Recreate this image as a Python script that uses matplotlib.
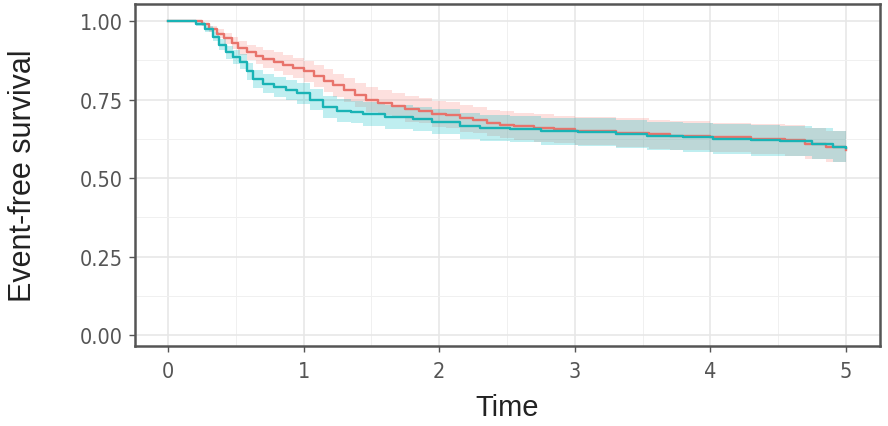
import matplotlib
matplotlib.use("Agg")
import matplotlib.pyplot as plt
import numpy as np

# survival curves (step functions, post)
red_t = [0, 0.25, 0.30, 0.36, 0.41, 0.47, 0.52, 0.58, 0.65, 0.70, 0.78, 0.85, 0.92, 1.00,
         1.08, 1.15, 1.22, 1.30, 1.38, 1.46, 1.55, 1.65, 1.75, 1.85, 1.95, 2.05, 2.15,
         2.25, 2.35, 2.45, 2.55, 2.70, 2.85, 3.00, 3.30, 3.55, 3.70, 4.00, 4.30, 4.55,
         4.70, 4.85, 5.00]
red_s = [1.0, 0.99, 0.975, 0.96, 0.945, 0.93, 0.915, 0.90, 0.89, 0.88, 0.87, 0.86, 0.85, 0.84,
         0.825, 0.81, 0.795, 0.78, 0.765, 0.75, 0.74, 0.73, 0.72, 0.715, 0.705, 0.70, 0.69,
         0.685, 0.675, 0.67, 0.665, 0.66, 0.655, 0.65, 0.645, 0.64, 0.635, 0.63, 0.625, 0.62,
         0.61, 0.60, 0.59]
red_ci = [0, 0.005, 0.01, 0.015, 0.018, 0.02, 0.022, 0.025, 0.027, 0.028, 0.03, 0.031, 0.032, 0.034,
          0.035, 0.036, 0.037, 0.038, 0.038, 0.039, 0.039, 0.04, 0.04, 0.04, 0.041, 0.041, 0.042,
          0.042, 0.042, 0.043, 0.043, 0.044, 0.044, 0.045, 0.045, 0.046, 0.046, 0.047, 0.048, 0.048,
          0.049, 0.05, 0.05]

teal_t = [0, 0.21, 0.27, 0.33, 0.38, 0.43, 0.48, 0.53, 0.58, 0.63, 0.70, 0.78, 0.87, 0.95,
          1.05, 1.14, 1.25, 1.35, 1.44, 1.60, 1.81, 1.95, 2.15, 2.30, 2.52, 2.75, 3.02, 3.30,
          3.53, 3.80, 4.02, 4.30, 4.51, 4.75, 4.90, 5.00]
teal_s = [1.0, 0.99, 0.975, 0.95, 0.925, 0.90, 0.885, 0.87, 0.84, 0.815, 0.80, 0.79, 0.78, 0.77,
          0.75, 0.726, 0.715, 0.71, 0.704, 0.695, 0.688, 0.68, 0.666, 0.66, 0.656, 0.65, 0.646, 0.64,
          0.634, 0.63, 0.624, 0.62, 0.618, 0.61, 0.60, 0.595]
teal_ci = [0, 0.006, 0.01, 0.015, 0.018, 0.02, 0.022, 0.024, 0.026, 0.028, 0.03, 0.031, 0.032, 0.033,
           0.034, 0.035, 0.036, 0.036, 0.037, 0.038, 0.039, 0.04, 0.04, 0.041, 0.042, 0.043, 0.044, 0.045,
           0.046, 0.046, 0.047, 0.048, 0.048, 0.049, 0.05, 0.05]

x_ticks = [0, 1, 2, 3, 4, 5]
y_ticks = [0.00, 0.25, 0.50, 0.75, 1.00]

regular = ["Liberation Sans", "DejaVu Sans"]

fig = plt.figure(figsize=(8.88, 4.27), dpi=100)
ax = fig.add_axes([0.152, 0.187, 0.839, 0.801])

for t, s, ci, col, a in [(red_t, red_s, red_ci, "#F8766D", 0.22),
                         (teal_t, teal_s, teal_ci, "#00BFC4", 0.25)]:
    s = np.array(s)
    ci = np.array(ci)
    ax.fill_between(t, s - ci, s + ci, step="post", color=col, alpha=a, lw=0)
for t, s, col in [(red_t, red_s, "#E8736B"), (teal_t, teal_s, "#19B3B5")]:
    ax.step(t, s, where="post", color=col, lw=1.7)

ax.set_xlim(-0.243, 5.25)
ax.set_ylim(-0.035, 1.054)
ax.set_xticks(x_ticks)
ax.set_yticks(y_ticks)
ax.set_xticks(np.arange(0.5, 5.5, 1.0), minor=True)
ax.set_yticks(np.arange(0.125, 1.0, 0.25), minor=True)
ax.set_xticklabels([str(v) for v in x_ticks], family="DejaVu Sans", stretch="condensed",
                   fontsize=15.5, color="#555555")
ax.set_yticklabels(["%.2f" % v for v in y_ticks], family="DejaVu Sans", stretch="condensed",
                   fontsize=15.5, color="#555555")

ax.grid(which="major", color="#E6E6E6", lw=1.1)
ax.grid(which="minor", color="#F0F0F0", lw=0.7)
ax.set_axisbelow(True)
ax.tick_params(which="major", length=4, width=1, color="#555555")
ax.tick_params(axis="x", pad=7)
ax.tick_params(axis="y", pad=5)
ax.tick_params(which="minor", length=0)
for sp in ax.spines.values():
    sp.set_color("#555555")
    sp.set_linewidth(1.8)

ax.set_xlabel("Time", family=regular, fontsize=21, color="#222222", labelpad=8)
ax.set_ylabel("Event-free survival", family=regular, fontsize=22, color="#222222", labelpad=30)

fig.savefig("out.png", dpi=100)
